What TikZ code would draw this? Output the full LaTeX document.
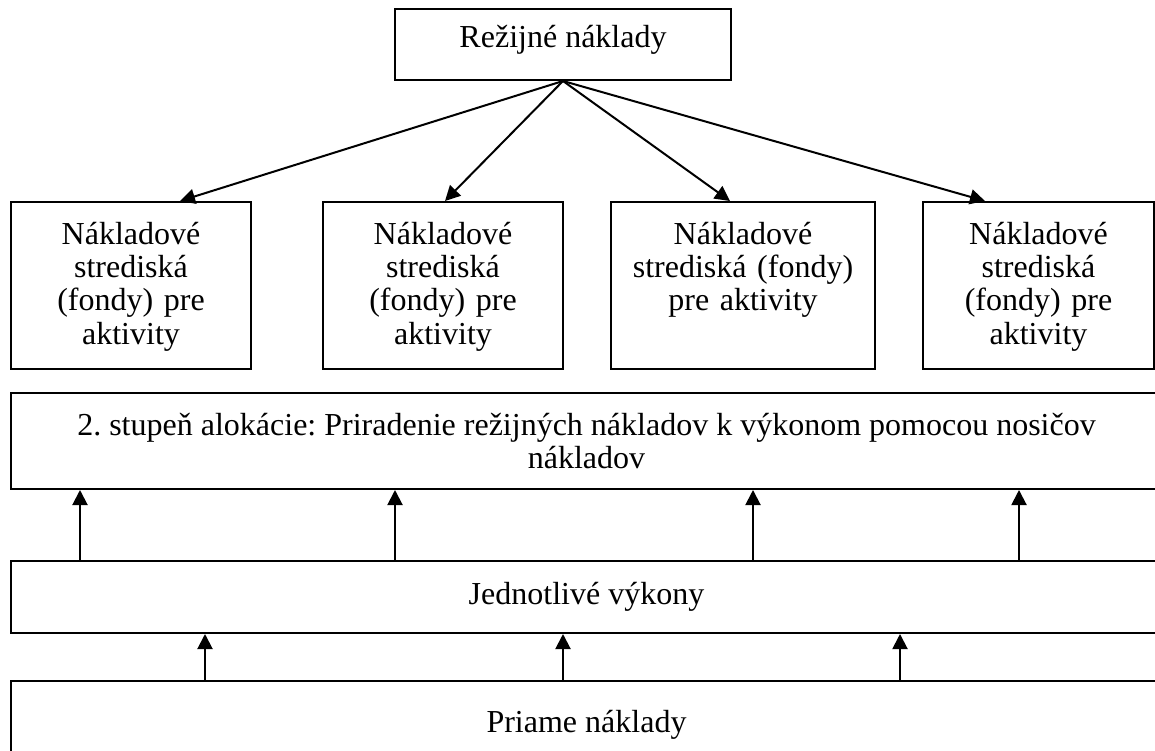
\documentclass[tikz,border=0pt]{standalone}
\usepackage{fontspec}
\setmainfont{Liberation Serif}
\usetikzlibrary{arrows.meta}
\frenchspacing

\begin{document}
\begin{tikzpicture}[
  x=0.5pt, y=-0.5pt,
  font=\fontsize{16}{16.7}\selectfont,
  box/.style={
    draw, align=center, inner sep=0pt, line width=1pt,
  },
  head/.style={box, minimum width=168pt, minimum height=35.5pt,
    text height=19pt, text depth=16.5pt},
  pool/.style={box, minimum height=83.5pt, text height=21pt, text depth=62.5pt},
  band/.style={box, minimum width=575.5pt},
  flow/.style={-{Triangle[length=7.5pt, width=7.5pt]}, line width=1pt},
]
\useasboundingbox (0,0) rectangle (1155,750);

% ---- Overhead costs at the top ------------------------------------------
\node[head] (overhead) at (563, 44.5) {Režijné náklady};

% ---- Cost pools for the activities --------------------------------------
\node[pool, text width=120pt]   (pool1) at (131, 285.5)
  {Nákladové\\strediská\\(fondy) pre\\aktivity};
\node[pool, text width=120pt]   (pool2) at (443, 285.5)
  {Nákladové\\strediská\\(fondy) pre\\aktivity};
\node[pool, text width=132pt]   (pool3) at (743, 285.5)
  {Nákladové\\strediská (fondy)\\pre aktivity};
\node[pool, text width=115.5pt] (pool4) at (1038.5, 285.5)
  {Nákladové\\strediská\\(fondy) pre\\aktivity};

% ---- Bands running past the right edge ----------------------------------
\node[band, minimum height=48pt]   (alloc)   at (586.5, 441)
  {2. stupeň alokácie: Priradenie režijných nákladov k výkonom pomocou nosičov\\nákladov};
\node[band, minimum height=36pt]   (outputs) at (586.5, 597) {Jednotlivé výkony};
\node[band, minimum height=43.5pt] (direct)  at (586.5, 724.5) {Priame náklady};

% ---- Overhead split into the pools --------------------------------------
\draw[flow] (overhead.south) -- ([xshift=24.5pt]pool1.north);
\draw[flow] (overhead.south) -- ([xshift=1pt]pool2.north);
\draw[flow] (overhead.south) -- ([xshift=-6.5pt]pool3.north);
\draw[flow] (overhead.south) -- ([xshift=-26.75pt]pool4.north);

% ---- Upward flows between the bands -------------------------------------
\foreach \x in {80, 395, 753, 1019}
  \draw[flow] (outputs.north -| \x,0) -- (alloc.south -| \x,0);
\foreach \x in {205, 563, 900}
  \draw[flow] (direct.north -| \x,0) -- (outputs.south -| \x,0);

\end{tikzpicture}
\end{document}
